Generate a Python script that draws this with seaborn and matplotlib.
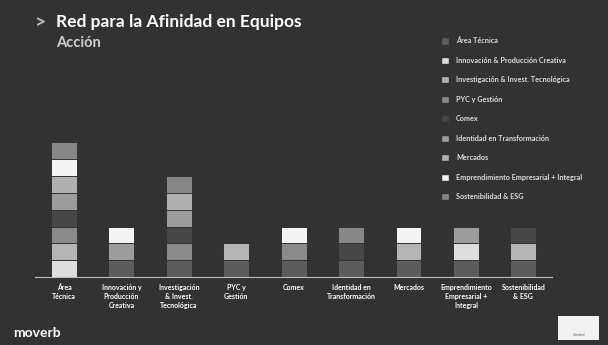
import matplotlib.pyplot as plt
import matplotlib.patches as mpatches
import seaborn as sns
import numpy as np
import pandas as pd

equipos = [
    "Área\nTécnica",
    "Innovación y\nProducción\nCreativa",
    "Investigación\n& Invest.\nTecnológica",
    "PYC y\nGestión",
    "Comex",
    "Identidad en\nTransformación",
    "Mercados",
    "Emprendimiento\nEmpresarial +\nIntegral",
    "Sostenibilidad\n& ESG",
]

series = [
    "Área Técnica",
    "Innovación & Producción Creativa",
    "Investigación & Invest. Tecnológica",
    "PYC y Gestión",
    "Comex",
    "Identidad en Transformación",
    "Mercados",
    "Emprendimiento Empresarial + Integral",
    "Sostenibilidad & ESG",
]

colores = ["#5c5c5c", "#dedede", "#b4b4b4", "#8a8a8a", "#474747",
           "#9c9c9c", "#b0b0b0", "#f4f4f4", "#878787"]

# afinidad: fila = serie (legend), columna = equipo (x)
afinidad = np.array([
    [0, 1, 1, 1, 1, 1, 1, 1, 1],
    [1, 0, 0, 0, 0, 0, 0, 1, 0],
    [1, 0, 0, 1, 0, 0, 1, 0, 1],
    [1, 0, 1, 0, 1, 0, 0, 0, 0],
    [1, 0, 1, 0, 0, 1, 0, 0, 1],
    [1, 1, 1, 0, 0, 0, 0, 1, 0],
    [1, 0, 1, 0, 0, 0, 0, 0, 0],
    [1, 1, 0, 0, 1, 0, 1, 0, 0],
    [1, 0, 1, 0, 0, 1, 0, 0, 0],
])

fondo = "#323232"
acumulado = afinidad.cumsum(axis=0)

fig = plt.figure(figsize=(6.08, 3.45), dpi=100, facecolor=fondo)
ax = fig.add_axes([0.058, 0.197, 0.85, 0.415], facecolor=fondo)

# barras apiladas: se dibuja la suma acumulada de arriba hacia abajo
for i in range(len(series) - 1, -1, -1):
    df = pd.DataFrame({"equipo": equipos, "valor": acumulado[i]})
    sns.barplot(data=df, x="equipo", y="valor", color=colores[i],
                width=0.45, edgecolor=fondo, linewidth=0.7,
                saturation=1, ax=ax)

ax.set_ylim(0, 8.5)
ax.set_xlim(-0.5, len(equipos) - 0.5)
ax.set_xlabel("")
ax.set_ylabel("")
ax.set_yticks([])
for s in ["top", "right", "left"]:
    ax.spines[s].set_visible(False)
ax.spines["bottom"].set_color("#bdbdbd")
ax.spines["bottom"].set_linewidth(0.8)
ax.tick_params(axis="x", length=0, pad=5)
for lbl in ax.get_xticklabels():
    lbl.set_fontsize(5.0)
    lbl.set_color("white")
    lbl.set_fontweight("bold")
    lbl.set_family("Lato")
    lbl.set_va("top")
    lbl.set_linespacing(1.3)

handles = [mpatches.Patch(facecolor=c, edgecolor=fondo, label=s)
           for c, s in zip(colores, series)]
leg = fig.legend(handles=handles, loc="upper left",
                 bbox_to_anchor=(0.72, 0.9), frameon=False,
                 fontsize=5.2, labelspacing=1.7, handlelength=1.15,
                 handleheight=1.15, handletextpad=1.0, borderaxespad=0)
for t in leg.get_texts():
    t.set_color("#dddddd")
    t.set_fontweight("bold")
    t.set_family("Lato")

fig.text(0.058, 0.935, ">", color="#bdbdbd", fontsize=14, fontweight="bold",
         family="Lato", va="center")
fig.text(0.092, 0.935, "Red para la Afinidad en Equipos", color="white",
         fontsize=12.5, fontweight="bold", family="Lato", va="center")
fig.text(0.092, 0.875, "Acción", color="#cfcfcf", fontsize=10.5,
         fontweight="bold", family="Lato", va="center")

fig.text(0.022, 0.035, "moverb", color="white", fontsize=10,
         fontweight="bold", family="Lato", va="center")
fig.patches.append(mpatches.Rectangle((0.918, 0.015), 0.068, 0.068,
                                      transform=fig.transFigure,
                                      facecolor="#f2f2f2", edgecolor="none"))
fig.text(0.952, 0.03, "afinidad", color="#555555", fontsize=2.5,
         ha="center", va="center", family="Lato")

plt.savefig("out.png", dpi=100, facecolor=fondo)
